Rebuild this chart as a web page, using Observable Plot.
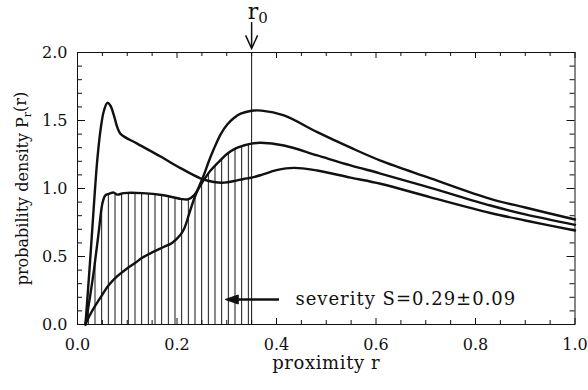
<!DOCTYPE html>
<html><head><meta charset="utf-8">
<script src="https://cdn.jsdelivr.net/npm/d3@7"></script>
<script src="https://cdn.jsdelivr.net/npm/@observablehq/plot@0.6"></script>
<style>
html,body{margin:0;padding:0;background:#fff;}
#chart{width:588px;height:390px;}
</style></head><body><div id="chart"></div>
<script>
// ---- data ----
const curveA_r = [0.016, 0.025, 0.033, 0.040, 0.047, 0.053, 0.060, 0.066, 0.073, 0.080, 0.087, 0.12, 0.167, 0.207, 0.247, 0.274, 0.295, 0.315, 0.334, 0.35, 0.37, 0.40, 0.435, 0.482, 0.549, 0.609, 0.71, 0.83, 0.9, 1.0];
const curveA_p = [0.0, 0.45, 0.88, 1.22, 1.45, 1.57, 1.63, 1.61, 1.54, 1.45, 1.40, 1.33, 1.235, 1.15, 1.075, 1.048, 1.043, 1.055, 1.07, 1.08, 1.10, 1.135, 1.152, 1.132, 1.08, 1.035, 0.935, 0.82, 0.765, 0.691];

const curveB_r = [0.016, 0.025, 0.033, 0.043, 0.050, 0.056, 0.063, 0.073, 0.080, 0.093, 0.13, 0.173, 0.207, 0.222, 0.234, 0.25, 0.267, 0.285, 0.301, 0.318, 0.334, 0.35, 0.368, 0.415, 0.482, 0.549, 0.609, 0.71, 0.83, 0.9, 1.0];
const curveB_p = [0.0, 0.2, 0.40, 0.69, 0.89, 0.95, 0.96, 0.97, 0.955, 0.966, 0.966, 0.95, 0.924, 0.92, 0.95, 1.04, 1.13, 1.20, 1.255, 1.295, 1.316, 1.33, 1.336, 1.316, 1.243, 1.17, 1.11, 1.005, 0.875, 0.81, 0.733];

const curveC_r = [0.016, 0.025, 0.036, 0.05, 0.063, 0.08, 0.097, 0.115, 0.13, 0.15, 0.173, 0.19, 0.207, 0.215, 0.225, 0.234, 0.245, 0.254, 0.264, 0.274, 0.288, 0.301, 0.315, 0.328, 0.35, 0.37, 0.415, 0.482, 0.549, 0.609, 0.71, 0.83, 0.9, 1.0];
const curveC_p = [0.0, 0.07, 0.14, 0.22, 0.29, 0.355, 0.405, 0.45, 0.49, 0.53, 0.57, 0.60, 0.66, 0.71, 0.82, 0.92, 1.02, 1.10, 1.20, 1.29, 1.40, 1.47, 1.52, 1.55, 1.572, 1.573, 1.537, 1.414, 1.30, 1.205, 1.075, 0.924, 0.86, 0.772];

const xMajorTicks = [0, 0.2, 0.4, 0.6, 0.8, 1.0];
const xMinorTicks = [0.05, 0.1, 0.15, 0.25, 0.3, 0.35, 0.45, 0.5, 0.55, 0.65, 0.7, 0.75, 0.85, 0.9, 0.95];
const yMajorTicks = [0, 0.5, 1.0, 1.5, 2.0];
const yMinorTicks = [0.1, 0.2, 0.3, 0.4, 0.6, 0.7, 0.8, 0.9, 1.1, 1.2, 1.3, 1.4, 1.6, 1.7, 1.8, 1.9];

const r0 = 0.35;                       // marked proximity
const r0Arrow = [{r: 0.35, from: 2.22, to: 2.03}];
const r0Label = [{r: 0.35, p: 2.25, text: "r0"}];
const severityArrow = [{p: 0.184, from: 0.398, to: 0.297}];
const severityLabel = [{r: 0.438, p: 0.184, text: "severity S=0.29±0.09"}];
const xTitle = [{r: 0.5, text: "proximity r"}];
const yTitle = [{p: 1.0, text: "probability density Pr(r)"}];
const hatchStart = 0.0228, hatchStep = 0.0134;

// ---- layout ----
const W = 588, H = 390, mL = 77, mR = 13.5, mT = 52, mB = 66;
const innerH = H - mT - mB, innerW = W - mL - mR;
const ink = "#111";

const rows = (rs, ps, name) => rs.map((r, i) => ({r, p: ps[i], curve: name}));
const allRows = [...rows(curveA_r, curveA_p, "A"), ...rows(curveB_r, curveB_p, "B"), ...rows(curveC_r, curveC_p, "C")];
const hatchRows = rows(curveB_r, curveB_p, "B").filter(d => d.r <= r0 + 1e-9);

const headDown = {draw(ctx) { ctx.moveTo(-6, -13); ctx.lineTo(0, 0); ctx.lineTo(6, -13); }};
const headLeft = {draw(ctx) { ctx.moveTo(0, 0); ctx.lineTo(13, -4.5); ctx.lineTo(13, 4.5); ctx.closePath(); }};

const plot = Plot.plot({
  width: W, height: H,
  marginLeft: mL, marginRight: mR, marginTop: mT, marginBottom: mB,
  x: {domain: [0, 1], axis: null},
  y: {domain: [0, 2], axis: null},
  style: {fontFamily: "'DejaVu Serif', serif", background: "#fff", color: ink, overflow: "visible"},
  marks: [
    Plot.areaY(hatchRows, {x: "r", y: "p", curve: "catmull-rom", fill: "url(#hatch)"}),
    Plot.ruleX([r0], {stroke: ink, strokeWidth: 1}),
    Plot.line(allRows, {x: "r", y: "p", z: "curve", curve: "catmull-rom", stroke: ink, strokeWidth: 2.4, strokeLinejoin: "round"}),
    Plot.frame({stroke: ink, strokeWidth: 1}),
    // inward ticks on all four sides
    Plot.ruleX(xMajorTicks, {insetTop: innerH - 6, stroke: ink}),
    Plot.ruleX(xMinorTicks, {insetTop: innerH - 4, stroke: ink}),
    Plot.ruleX(xMajorTicks, {insetBottom: innerH - 6, stroke: ink}),
    Plot.ruleX(xMinorTicks, {insetBottom: innerH - 4, stroke: ink}),
    Plot.ruleY(yMajorTicks, {insetRight: innerW - 8, stroke: ink}),
    Plot.ruleY(yMinorTicks, {insetRight: innerW - 5, stroke: ink}),
    Plot.ruleY(yMajorTicks, {insetLeft: innerW - 8, stroke: ink}),
    Plot.ruleY(yMinorTicks, {insetLeft: innerW - 5, stroke: ink}),
    // tick labels
    Plot.text(xMajorTicks, {x: d => d, frameAnchor: "bottom", dy: 14, lineAnchor: "top", text: d => d.toFixed(1), fontSize: 16, fill: ink}),
    Plot.text(yMajorTicks, {y: d => d, frameAnchor: "left", dx: -10, textAnchor: "end", lineAnchor: "middle", text: d => d.toFixed(1), fontSize: 16, fill: ink}),
    // axis titles
    Plot.text(xTitle, {x: "r", frameAnchor: "bottom", dy: 44, textAnchor: "middle", lineAnchor: "bottom", text: "text", fontSize: 18, letterSpacing: 0.6, fill: ink}),
    Plot.text(yTitle, {y: "p", frameAnchor: "left", dx: -55, rotate: -90, textAnchor: "middle", lineAnchor: "middle", text: "text", fontSize: 16, fill: ink}),
    // r0 marker
    Plot.ruleX(r0Arrow, {x: "r", y1: "from", y2: "to", stroke: ink, strokeWidth: 1.5}),
    Plot.dot(r0Arrow, {x: "r", y: "to", symbol: headDown, fill: "none", stroke: ink, strokeWidth: 1.5}),
    Plot.text(r0Label, {x: "r", y: "p", dx: -4, textAnchor: "start", lineAnchor: "bottom", text: "text", fontSize: 22, fill: ink}),
    // severity annotation
    Plot.ruleY(severityArrow, {y: "p", x1: "from", x2: "to", stroke: ink, strokeWidth: 2.5, dx: 4}),
    Plot.dot(severityArrow, {x: "to", y: "p", symbol: headLeft, fill: ink, stroke: ink, strokeWidth: 1}),
    Plot.text(severityLabel, {x: "r", y: "p", textAnchor: "start", lineAnchor: "middle", text: "text", fontSize: 18, letterSpacing: 1, fill: ink})
  ]
});

// hatch pattern aligned to data via the x scale
const sx = plot.scale("x");
const stepPx = sx.apply(hatchStep) - sx.apply(0);
const startPx = sx.apply(hatchStart);
const svg = d3.select(plot);
const defs = svg.insert("defs", ":first-child");
const pat = defs.append("pattern").attr("id", "hatch").attr("patternUnits", "userSpaceOnUse")
  .attr("x", startPx - 0.5).attr("y", 0).attr("width", stepPx).attr("height", 20);
pat.append("line").attr("x1", 0.5).attr("x2", 0.5).attr("y1", 0).attr("y2", 20).attr("stroke", ink).attr("stroke-width", 1);

// letter spacing where requested
svg.selectAll("text").each(function () {
  const t = this.textContent;
  if (t === "proximity r") this.setAttribute("letter-spacing", "0.6");
  if (t === "severity S=0.29±0.09") this.setAttribute("letter-spacing", "1");
});

// subscripts
svg.selectAll("text").each(function () {
  const t = this.textContent;
  if (t === "r0") {
    const s = d3.select(this); s.text(null);
    s.append("tspan").text("r");
    s.append("tspan").attr("dy", "0.3em").attr("font-size", "15").text("0");
  } else if (t === "probability density Pr(r)") {
    const s = d3.select(this); s.text(null);
    s.append("tspan").text("probability density P");
    s.append("tspan").attr("dy", "0.3em").attr("font-size", "11").text("r");
    s.append("tspan").attr("dy", "-0.3em").text("(r)");
  }
});

document.getElementById("chart").appendChild(plot);
</script></body></html>
